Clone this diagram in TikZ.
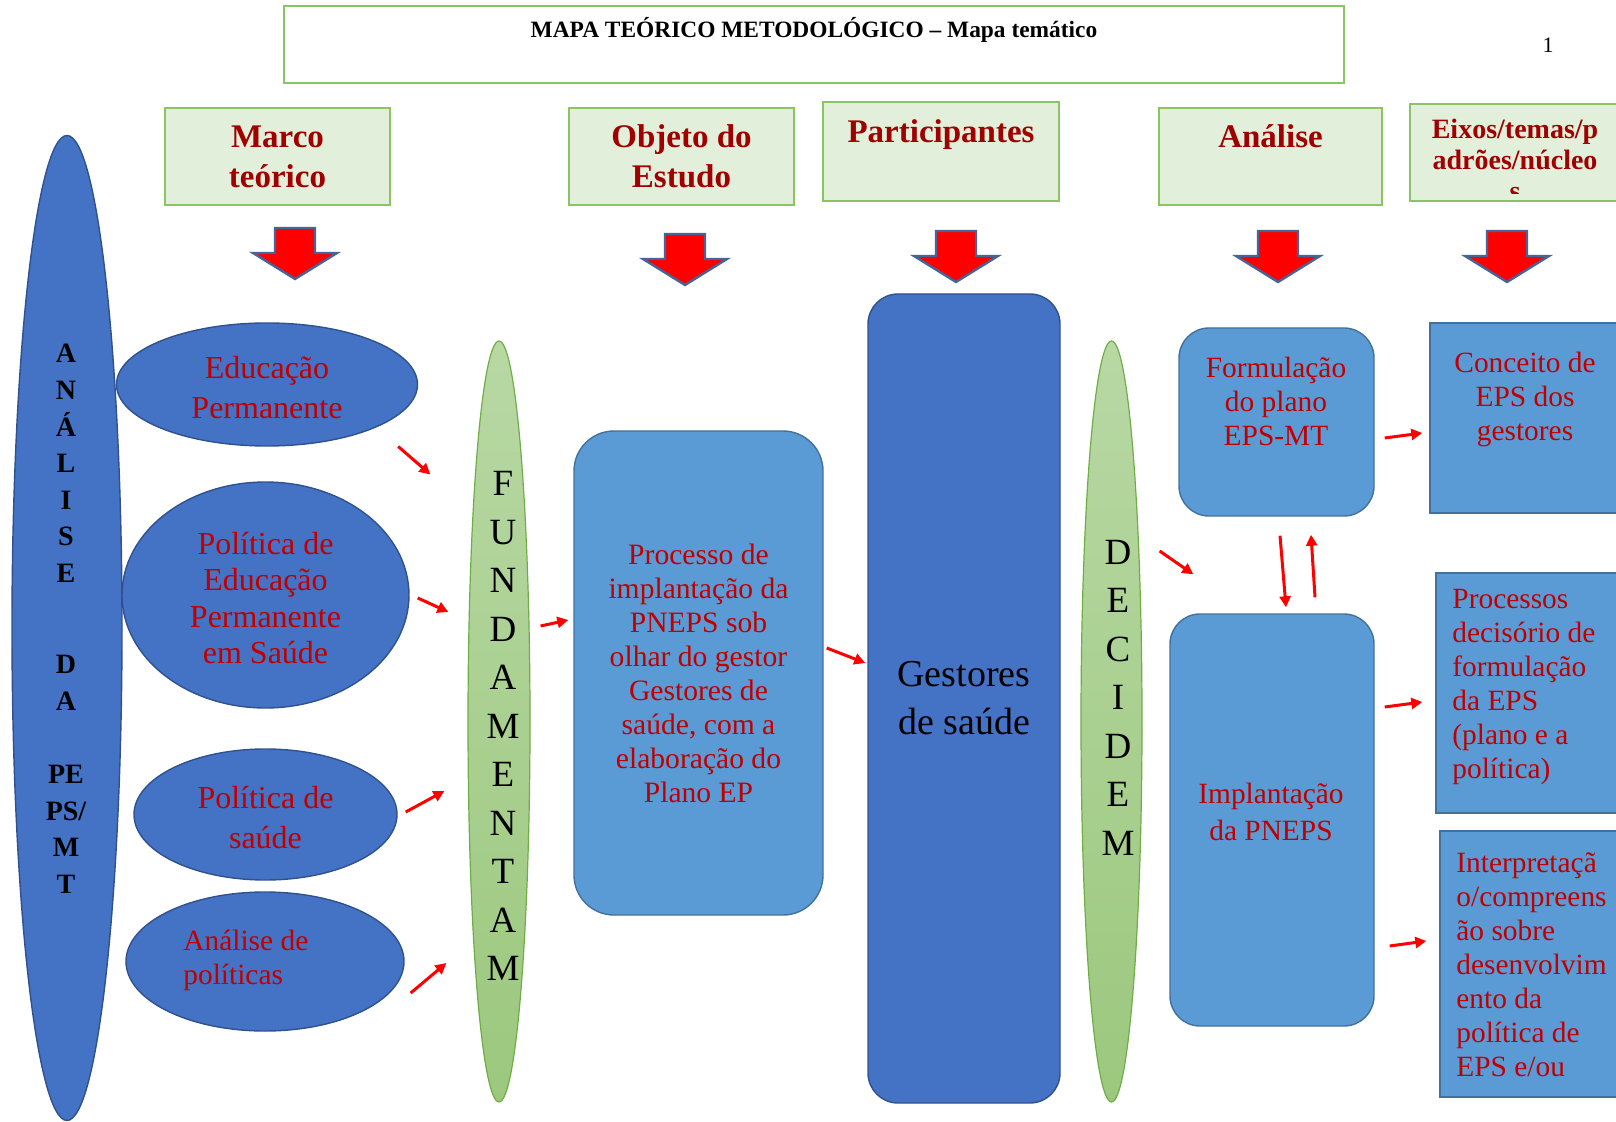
\documentclass[tikz,border=0pt]{standalone}
\usepackage{fontspec}
\setmainfont{Liberation Serif}
\usetikzlibrary{shapes.geometric, arrows.meta, calc}
\definecolor{hdrfill}{RGB}{226,239,218}
\definecolor{hdrline}{RGB}{140,195,100}
\definecolor{hdrtext}{RGB}{160,0,0}
\definecolor{bodytext}{RGB}{192,0,0}
\definecolor{bluedk}{RGB}{68,114,196}
\definecolor{bluedkline}{RGB}{47,82,143}
\definecolor{bluelt}{RGB}{91,155,213}
\definecolor{blueltline}{RGB}{65,113,156}
\definecolor{greentop}{RGB}{184,216,164}
\definecolor{greenbot}{RGB}{156,200,126}
\definecolor{greenline}{RGB}{112,173,71}
\definecolor{arrowred}{RGB}{255,0,0}
\definecolor{arrowline}{RGB}{70,100,150}
\newcommand{\hs}{\rule[-4.5pt]{0pt}{20pt}}
\newcommand{\tallfirst}{\rule{0pt}{14pt}}
\tikzset{
  hdr/.style={rectangle, draw=hdrline, line width=0.8pt, fill=hdrfill,
              align=center, text=hdrtext, inner sep=0pt,
              font=\fontsize{16.5}{20}\selectfont\bfseries},
  blob/.style={ellipse, draw=bluedkline, line width=0.7pt, fill=bluedk,
               inner sep=0pt, align=center, text=bodytext},
  pill/.style={ellipse, draw=greenline, line width=0.6pt,
               top color=greentop, bottom color=greenbot, inner sep=0pt},
  rbox/.style={rectangle, rounded corners=15pt, draw=blueltline,
               line width=0.7pt, fill=bluelt, inner sep=0pt},
  sbox/.style={rectangle, draw=blueltline, line width=0.7pt, fill=bluelt,
               inner sep=0pt},
  body/.style={align=center, text=bodytext, inner sep=0pt,
               font=\fontsize{14.7}{17}\selectfont},
  letters/.style={align=center, inner sep=0pt,
                  font=\fontsize{18.5}{24.25}\selectfont},
  arr/.style={-{Triangle[length=5.5pt,width=5.5pt]}, line width=1.5pt, draw=arrowred},
  blockarr/.style={fill=arrowred, draw=arrowline, line width=1.2pt},
}

\begin{document}
\begin{tikzpicture}[x=0.5pt, y=-0.5pt]
  \useasboundingbox (0,0) rectangle (1616,1122);
  \clip (0,0) rectangle (1616,1122);

  % title
  \node[rectangle, draw=hdrline, line width=0.8pt, minimum width=530pt, minimum height=38.5pt] (title) at (814,44.5) {};
  \node[inner sep=0pt, font=\fontsize{11.7}{14}\selectfont\bfseries] (titletxt) at (814,30) {MAPA TEÓRICO METODOLÓGICO – Mapa temático};
  \node[inner sep=0pt, font=\fontsize{11}{13}\selectfont] (pgnum) at (1548,45) {1};

  % headers
  \node[hdr, minimum width=112.5pt, minimum height=48.5pt] (hmarco) at (277.5,156.5) {\hs Marco\\\hs teórico};
  \node[hdr, minimum width=112.5pt, minimum height=48.5pt] (hobjeto) at (681.5,156.5) {\hs Objeto do\\\hs Estudo};
  \node[hdr, minimum width=118pt, minimum height=49.5pt] (hpart) at (941,151.5) {\hs Participantes\\\hs};
  \node[hdr, minimum width=111.5pt, minimum height=48.5pt] (hanal) at (1270.5,156.5) {\hs Análise\\\hs};
  \node[hdr, minimum width=107.5pt, minimum height=48.5pt] (heixos) at (1517.5,152.5) {};
  \begin{scope}
    \clip (1410,104) rectangle (1625,194);
    \node[anchor=north, align=center, inner sep=0pt, text=hdrtext,
          font=\fontsize{14}{15.5}\selectfont\bfseries] (heixostxt) at (1515,119) {Eixos/temas/p\\adrões/núcleo\\s};
  \end{scope}

  \foreach \cx/\ty in {295/228, 685/234, 956/231, 1278/231, 1507/231}
    \draw[blockarr] (\cx-20,\ty) -- (\cx+20,\ty) -- (\cx+20,\ty+25) -- (\cx+42,\ty+25)
      -- (\cx,\ty+51) -- (\cx-42,\ty+25) -- (\cx-20,\ty+25) -- cycle;

  % left column
  \node[blob, minimum width=55pt, minimum height=492.5pt] (analise) at (67,628) {};
  \node[align=center, inner sep=0pt, font=\fontsize{14}{18.3}\selectfont\bfseries] (analisetxt) at (66,619)
    {A\\N\\Á\\L\\I\\S\\E\\[27.45pt]D\\A\\[18.3pt]PE\\PS/\\M\\T};

  \node[blob, minimum width=150.5pt, minimum height=61.5pt, font=\fontsize{16}{20}\selectfont] (edu) at (267,384.5) {\tallfirst Educação\\Permanente};
  \node[blob, minimum width=143.5pt, minimum height=113pt, font=\fontsize{16}{18.2}\selectfont] (peps) at (265.5,595) {\tallfirst Política de\\Educação\\Permanente\\em Saúde};
  \node[blob, minimum width=131.5pt, minimum height=65.5pt, font=\fontsize{16}{20}\selectfont] (polsaude) at (265.5,814.5) {\tallfirst Política de\\saúde};
  \node[blob, minimum width=139pt, minimum height=69.5pt] (analpol) at (265,961.5) {};
  \node[body, align=left, anchor=west] (analpoltxt) at (183,960.5) {Análise de\\políticas};

  \node[pill, minimum width=31pt, minimum height=380.5pt] (fund) at (499,721.5) {};
  \node[letters] (fundtxt) at (503,726) {F\\U\\N\\D\\A\\M\\E\\N\\T\\A\\M};

  % middle
  \node[rbox, body, rounded corners=20pt, minimum width=124.5pt, minimum height=242pt,
        font=\fontsize{14.8}{17}\selectfont] (proc) at (698.5,673)
    {Processo de\\implantação da\\PNEPS sob\\olhar do gestor\\Gestores de\\saúde, com a\\elaboração do\\Plano EP};
  \node[rbox, fill=bluedk, draw=bluedkline, align=center, minimum width=96pt, minimum height=404.5pt,
        font=\fontsize{19}{24}\selectfont] (gest) at (964,698.5) {Gestores\\de saúde};

  \node[pill, minimum width=30.5pt, minimum height=380.5pt] (dec) at (1111.5,721.5) {};
  \node[letters] (dectxt) at (1118,697.7) {D\\E\\C\\I\\D\\E\\M};

  % right
  \node[rbox, minimum width=97.5pt, minimum height=94pt] (form) at (1276.5,422) {};
  \node[body] (formtxt) at (1276,401) {Formulação\\do plano\\EPS-MT};
  \node[rbox, minimum width=102pt, minimum height=206pt] (impl) at (1272,820) {};
  \node[body, font=\fontsize{14.7}{18.5}\selectfont] (impltxt) at (1271,812) {Implantação\\da PNEPS};

  \node[sbox, minimum width=97.5pt, minimum height=95pt] (conc) at (1527.5,418) {};
  \node[body] (conctxt) at (1525,399) {Conceito de\\EPS dos\\gestores};
  \node[sbox, minimum width=94.5pt, minimum height=120pt] (decis) at (1530.5,693) {};
  \node[body, align=left, anchor=west] (decistxt) at (1452,687)
    {Processos\\decisório de\\formulação\\da EPS\\(plano e a\\política)};
  \node[sbox, minimum width=92.5pt, minimum height=133pt] (interp) at (1532.5,964) {};
  \node[body, align=left, anchor=west] (interptxt) at (1456,965)
    {Interpretaçã\\o/compreens\\ão sobre\\desenvolvim\\ento da\\política de\\EPS e/ou};

  % connectors
  \draw[arr] ($(edu.east)+(-20,62)$) -- ($(fund.west)+(-37,-247)$);
  \draw[arr] ($(peps.east)+(8,3)$) -- ($(fund.west)+(-19,-109.5)$);
  \draw[arr] ($(polsaude.east)+(8,-2.5)$) -- ($(fund.west)+(-23,69.5)$);
  \draw[arr] ($(analpol.east)+(6,31.5)$) -- ($(fund.west)+(-21,241.5)$);
  \draw[arr] ($(fund.east)+(10,-95.5)$) -- ($(proc.west)+(-5,-53)$);
  \draw[arr] ($(proc.east)+(3,-25)$) -- ($(gest.west)+(-2,-35.5)$);
  \draw[arr] ($(dec.east)+(17,-170.5)$) -- ($(impl.north west)+(24,-39)$);
  \draw[arr] ($(form.south)+(3.5,19)$) -- ($(impl.north)+(14,-6)$);
  \draw[arr] ($(impl.north)+(43,-16)$) -- ($(form.south)+(34.5,18)$);
  \draw[arr] ($(form.east)+(10,16)$) -- ($(conc.west)+(-7,15)$);
  \draw[arr] ($(impl.east)+(10,-113)$) -- ($(decis.west)+(-13,9)$);
  \draw[arr] ($(impl.east)+(15,126)$) -- ($(interp.west)+(-13,-23)$);
\end{tikzpicture}
\end{document}
